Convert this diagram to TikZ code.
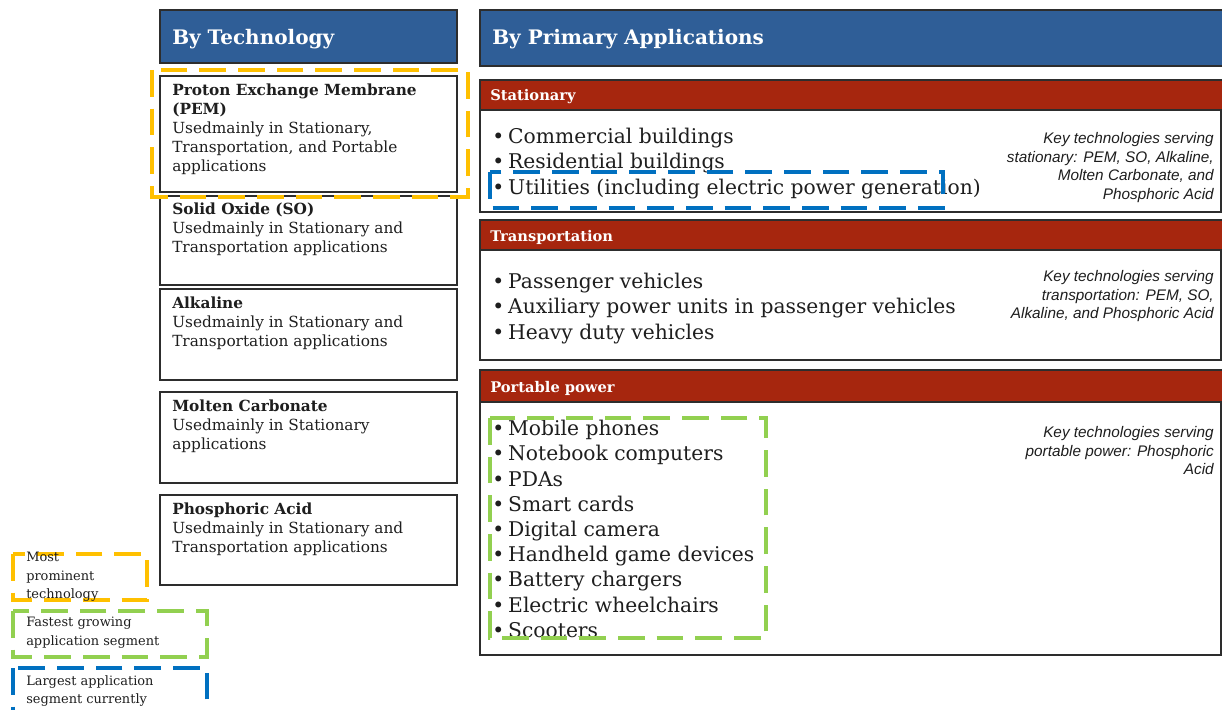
\documentclass[tikz,border=0pt]{standalone}
\usepackage{fontspec}
\setmainfont{DejaVu Serif}
\newfontfamily\keyfont{Liberation Sans}
\usepackage{tikz}
\usetikzlibrary{positioning}
\definecolor{headblue}{RGB}{47,94,151}
\definecolor{segred}{RGB}{166,38,14}
\definecolor{markyellow}{RGB}{255,192,0}
\definecolor{markgreen}{RGB}{146,208,80}
\definecolor{markblue}{RGB}{0,112,192}
\definecolor{boxline}{RGB}{45,45,45}
\definecolor{inktext}{RGB}{30,30,30}
\tikzset{
head_bar/.style={draw=boxline, fill=headblue, line width=0.8pt},
head_text/.style={anchor=base west, inner sep=0, text=white, font=\fontsize{15}{17}\selectfont\bfseries},
seg_bar/.style={draw=boxline, fill=segred, line width=0.8pt},
seg_text/.style={anchor=base west, inner sep=0, text=white, font=\fontsize{11}{13}\selectfont\bfseries},
plain_box/.style={draw=boxline, fill=white, line width=0.8pt},
tech_text/.style={anchor=north west, inner sep=0, align=left, text=inktext, font=\fontsize{11.5}{14.25}\selectfont},
bullet_list/.style={anchor=north west, inner sep=0, align=left, text=inktext, font=\fontsize{15.2}{18.9}\selectfont},
key_text/.style={anchor=north east, inner sep=0, align=right, text=inktext, font=\keyfont\itshape\fontsize{11.5}{14}\selectfont},
legend_text/.style={anchor=north west, inner sep=0, align=left, text=inktext, font=\fontsize{9.7}{13.9}\selectfont},
mark_line/.style={line width=3pt, dash pattern=on 20pt off 9pt}
}

\begin{document}
\begin{tikzpicture}[x=0.75pt, y=-0.75pt]
    \useasboundingbox (0,0) rectangle (1222,710);
    % technology column
    \draw[head_bar] (160,10) rectangle (457,63);
    \node[head_text] (tech_head) at (172,45) {By Technology};
    \draw[plain_box] (160,76) rectangle (457,192);
    \draw[plain_box] (160,196) rectangle (457,285);
    \draw[plain_box] (160,289) rectangle (457,380);
    \draw[plain_box] (160,392) rectangle (457,483);
    \draw[plain_box] (160,495) rectangle (457,585);
    \node[tech_text] (pem) at (172,84) {\textbf{Proton Exchange Membrane}\\\textbf{(PEM)}\\Usedmainly in Stationary,\\Transportation, and Portable\\applications};
    \node[tech_text] (so) at (172,203) {\textbf{Solid Oxide (SO)}\\Usedmainly in Stationary and\\Transportation applications};
    \node[tech_text] (alkaline) at (172,297) {\textbf{Alkaline}\\Usedmainly in Stationary and\\Transportation applications};
    \node[tech_text] (molten) at (172,400) {\textbf{Molten Carbonate}\\Usedmainly in Stationary\\applications};
    \node[tech_text] (phosphoric) at (172,503) {\textbf{Phosphoric Acid}\\Usedmainly in Stationary and\\Transportation applications};

    % applications column
    \draw[head_bar] (480,10) rectangle (1230,66);
    \node[head_text] (app_head) at (492,45) {By Primary Applications};

    \draw[plain_box] (480,110) rectangle (1221,212);
    \draw[seg_bar] (480,80) rectangle (1230,110);
    \node[seg_text] (stat_head) at (490,101) {Stationary};
    \node[bullet_list] (stat_list) at (492,128) {\textbullet\hspace{3pt}Commercial buildings\\\textbullet\hspace{3pt}Residential buildings\\\textbullet\hspace{3pt}Utilities (including electric power generation)};
    \node[key_text] (stat_key) at (1214,132) {Key technologies serving\\stationary: PEM, SO, Alkaline,\\Molten Carbonate, and\\Phosphoric Acid};

    \draw[plain_box] (480,250) rectangle (1221,360);
    \draw[seg_bar] (480,220) rectangle (1230,250);
    \node[seg_text] (trans_head) at (490,241) {Transportation};
    \node[bullet_list] (trans_list) at (492,273) {\textbullet\hspace{3pt}Passenger vehicles\\\textbullet\hspace{3pt}Auxiliary power units in passenger vehicles\\\textbullet\hspace{3pt}Heavy duty vehicles};
    \node[key_text] (trans_key) at (1214,270) {Key technologies serving\\transportation: PEM, SO,\\Alkaline, and Phosphoric Acid};

    \draw[plain_box] (480,402) rectangle (1221,655);
    \draw[seg_bar] (480,370) rectangle (1230,402);
    \node[seg_text] (port_head) at (490,392) {Portable power};
    \node[bullet_list] (port_list) at (492,420) {\textbullet\hspace{3pt}Mobile phones\\\textbullet\hspace{3pt}Notebook computers\\\textbullet\hspace{3pt}PDAs\\\textbullet\hspace{3pt}Smart cards\\\textbullet\hspace{3pt}Digital camera\\\textbullet\hspace{3pt}Handheld game devices\\\textbullet\hspace{3pt}Battery chargers\\\textbullet\hspace{3pt}Electric wheelchairs\\\textbullet\hspace{3pt}Scooters};
    \node[key_text] (port_key) at (1214,426) {Key technologies serving\\portable power: Phosphoric\\Acid};

    % highlight frames
    \draw[mark_line, markyellow] (152,70) rectangle (468,197);
    \draw[mark_line, markblue] (490,172) rectangle (943,208);
    \draw[mark_line, markgreen] (490,418) rectangle (766,638);

    % legend
    \draw[mark_line, markyellow] (13,554) rectangle (147,600);
    \node[legend_text] (leg_most) at (26,552) {Most\\prominent\\technology};
    \draw[mark_line, markgreen] (13,611) rectangle (207,657);
    \node[legend_text] (leg_fast) at (26,617) {Fastest growing\\application segment};
    \draw[mark_line, markblue] (13,668) rectangle (207,722);
    \node[legend_text] (leg_large) at (26,675) {Largest application\\segment currently};
\end{tikzpicture}
\end{document}
